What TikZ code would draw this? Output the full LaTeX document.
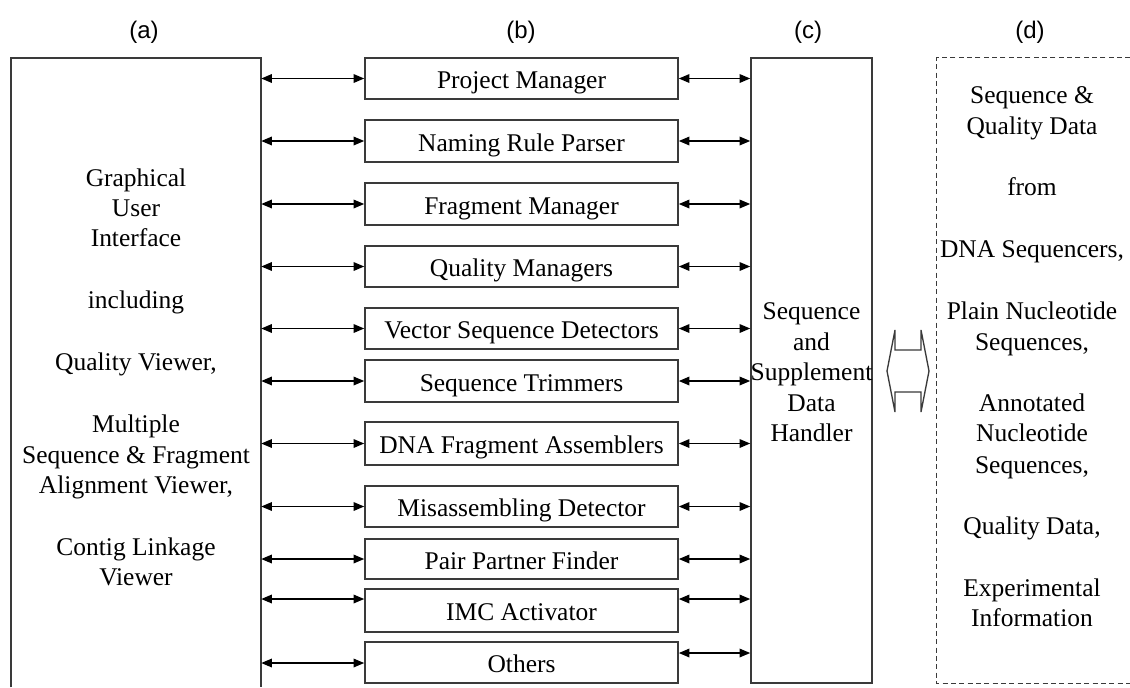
\documentclass[tikz,border=0pt]{standalone}
\usepackage{fontspec}
\setmainfont{Liberation Serif}
\newfontfamily\headfont{Liberation Sans}
\usetikzlibrary{arrows.meta,fit}
\definecolor{framegray}{HTML}{3A3A3A}
\begin{document}
\begin{tikzpicture}[x=0.75pt,y=-0.75pt,
  frame/.style={draw=framegray,line width=1.2pt},
  dashframe/.style={draw=framegray,line width=1pt,dash pattern=on 3.75pt off 2.5pt},
  bodyfont/.style={font=\fontsize{19.1}{23}\selectfont},
  modbox/.style={frame,bodyfont,inner sep=0pt,minimum width=234.75pt,
    text height=19.1pt,text depth=3.8pt},
  line/.style={bodyfont,anchor=base,inner sep=0pt},
  head/.style={font=\headfont\fontsize{18}{21}\selectfont,anchor=base,inner sep=0pt},
  conn/.style={<->,>={Triangle[length=8pt,width=6.5pt]},line width=1pt,black},
  xchg/.style={draw=framegray,line width=1pt,line join=miter}]
\useasboundingbox[fill=white] (0,0) rectangle (1130,687);

% column headings
\node[head] (ha) at (144,38) {(a)};
\node[head] (hb) at (521,38) {(b)};
\node[head] (hc) at (808,38) {(c)};
\node[head] (hd) at (1030,38) {(d)};

% (a) user interface column, open at the bottom
\node[inner sep=0pt,fit={(11,58) (261,687)}] (gui) {};
\draw[frame] (gui.south west) -- (gui.north west) -- (gui.north east) -- (gui.south east);
\foreach \i/\y/\t in {1/186/Graphical, 2/216/User, 3/246.5/Interface,
    4/308.5/including, 5/370/{Quality Viewer,}, 6/432/Multiple,
    7/463/{Sequence \& Fragment}, 8/493.5/{Alignment Viewer,},
    9/555/{Contig Linkage}, 10/585.5/Viewer}
  \node[line] (gui-\i) at (136,\y) {\t};

% (c) data handler column
\node[frame,inner sep=0pt,fit={(751,58) (872,683)}] (hdl) {};
\foreach \i/\y/\t in {1/319/Sequence, 2/350/and, 3/380.5/Supplement, 4/411/Data, 5/441.5/Handler}
  \node[line] (hdl-\i) at (811.5,\y) {\t};

% (d) external data sources, open at the right
\node[inner sep=0pt,fit={(937,58) (1130,683)}] (dd) {};
\draw[dashframe] (dd.north east) -- (dd.north west) -- (dd.south west) -- (dd.south east);
\foreach \i/\y/\t in {1/103/{Sequence \&}, 2/134/{Quality Data}, 3/195/from,
    4/257/{DNA Sequencers,}, 5/319/{Plain Nucleotide}, 6/350/{Sequences,},
    7/411/Annotated, 8/441.5/Nucleotide, 9/473/{Sequences,},
    10/534.5/{Quality Data,}, 11/596/Experimental, 12/626.5/Information}
  \node[line] (dd-\i) at (1032,\y) {\t};

% (b) processing modules with their links to (a) and (c)
\foreach \n/\ya/\yb/\yl/\yr/\t in {
    1/58/99/78.5/78.5/{Project Manager},
    2/120/162/141/141/{Naming Rule Parser},
    3/183/225/204/204/{Fragment Manager},
    4/246/287/266.5/266.5/{Quality Managers},
    5/308/349/328.5/328.5/{Vector Sequence Detectors},
    6/360/402/381/381/{Sequence Trimmers},
    7/422/465/443.5/443.5/{DNA Fragment Assemblers},
    8/486/527/506.5/506.5/{Misassembling Detector},
    9/539/579/559/559/{Pair Partner Finder},
    10/589/632/599/599/{IMC Activator},
    11/642/683/663/653/{Others}}
{
  \node[modbox,minimum height={(\yb-\ya)*0.75pt}] (m\n) at (521.5,{(\ya+\yb)/2}) {\t};
  \draw[conn] (gui.east |- 0,\yl) -- (m\n.west |- 0,\yl);
  \draw[conn] (m\n.east |- 0,\yr) -- (hdl.west |- 0,\yr);
}

% exchange between (c) and (d): outlined double-headed block arrow
\coordinate (xc) at (908,371);
\draw[xchg] ([shift={(-21,0)}]xc) -- ([shift={(-13,-41)}]xc) -- ([shift={(-13,-21)}]xc)
  -- ([shift={(13,-21)}]xc) -- ([shift={(13,-41)}]xc) -- ([shift={(21,0)}]xc)
  -- ([shift={(13,41)}]xc) -- ([shift={(13,21)}]xc) -- ([shift={(-13,21)}]xc)
  -- ([shift={(-13,41)}]xc) -- cycle;
\end{tikzpicture}
\end{document}
